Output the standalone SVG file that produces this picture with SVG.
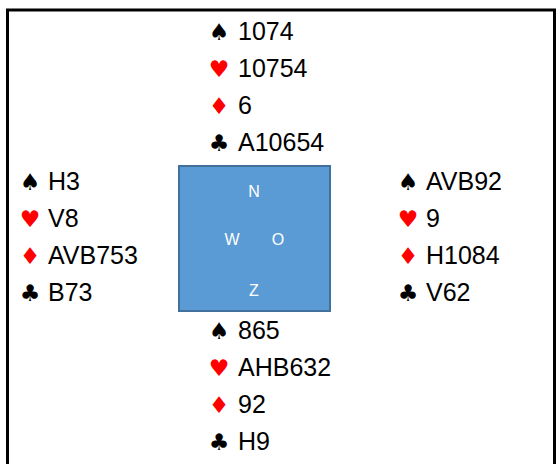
<svg xmlns="http://www.w3.org/2000/svg" width="556" height="464" viewBox="0 0 556 464">
<style>
.t{font-family:"Liberation Sans",Arial,sans-serif;font-size:25px;fill:#000}
.s{font-family:"DejaVu Sans",sans-serif;font-size:23px;text-anchor:middle}
.k{fill:#000}
.r{fill:#FF0000}
.c{font-family:"Liberation Sans",Arial,sans-serif;font-size:16px;fill:#fff;text-anchor:middle}
</style>
<rect width="556" height="464" fill="#fff"/>
<g id="frame" stroke="#000" stroke-width="3" fill="none">
<line x1="6" y1="10" x2="556" y2="10"/>
<line x1="7.5" y1="9" x2="7.5" y2="464"/>
<line x1="554.5" y1="9" x2="554.5" y2="464"/>
</g>
<g id="north">
<text class="s k" x="219" y="40">♠</text><text class="t" x="238" y="40">1074</text>
<text class="s r" x="219" y="77">♥</text><text class="t" x="238" y="77">10754</text>
<text class="s r" x="219" y="114">♦</text><text class="t" x="238" y="114">6</text>
<text class="s k" x="219" y="151">♣</text><text class="t" x="238" y="151">A10654</text>
</g>
<g id="west">
<text class="s k" x="30" y="190">♠</text><text class="t" x="48" y="190">H3</text>
<text class="s r" x="30" y="227">♥</text><text class="t" x="48" y="227">V8</text>
<text class="s r" x="30" y="264">♦</text><text class="t" x="48" y="264">AVB753</text>
<text class="s k" x="30" y="301">♣</text><text class="t" x="48" y="301">B73</text>
</g>
<g id="east">
<text class="s k" x="408" y="190">♠</text><text class="t" x="426" y="190">AVB92</text>
<text class="s r" x="408" y="227">♥</text><text class="t" x="426" y="227">9</text>
<text class="s r" x="408" y="264">♦</text><text class="t" x="426" y="264">H1084</text>
<text class="s k" x="408" y="301">♣</text><text class="t" x="426" y="301">V62</text>
</g>
<g id="south">
<text class="s k" x="219" y="339">♠</text><text class="t" x="238" y="339">865</text>
<text class="s r" x="219" y="376">♥</text><text class="t" x="238" y="376">AHB632</text>
<text class="s r" x="219" y="413">♦</text><text class="t" x="238" y="413">92</text>
<text class="s k" x="219" y="450">♣</text><text class="t" x="238" y="450">H9</text>
</g>
<g id="compass">
<rect x="179" y="166" width="151" height="145" fill="#5B9BD5" stroke="#41719C" stroke-width="2"/>
<text class="c" x="254" y="197">N</text>
<text class="c" x="232" y="245">W</text>
<text class="c" x="278" y="245">O</text>
<text class="c" x="254" y="296">Z</text>
</g>
<g id="connectors"/>
</svg>
